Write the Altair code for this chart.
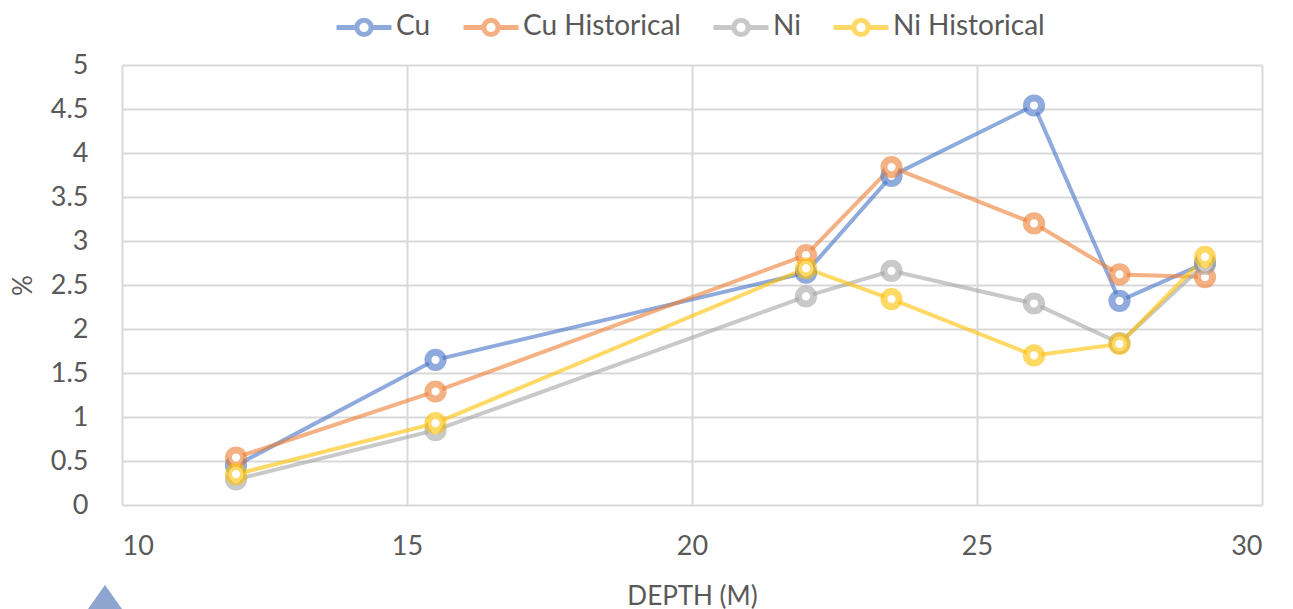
import altair as alt
import pandas as pd

depth = [12, 15.5, 22, 23.5, 26, 27.5, 29]
cu = [0.45, 1.65, 2.64, 3.74, 4.54, 2.32, 2.75]
cu_hist = [0.54, 1.29, 2.84, 3.84, 3.20, 2.62, 2.59]
ni = [0.29, 0.85, 2.37, 2.66, 2.29, 1.84, 2.74]
ni_hist = [0.35, 0.93, 2.69, 2.34, 1.70, 1.83, 2.82]

series_names = ["Cu", "Cu Historical", "Ni", "Ni Historical"]
series_colors = ["#4472C4", "#ED7D31", "#A5A5A5", "#FFC000"]

rows = []
for name, vals in zip(series_names, [cu, cu_hist, ni, ni_hist]):
    for d, v in zip(depth, vals):
        rows.append({"series": name, "depth": d, "value": v})
df = pd.DataFrame(rows)

FONT = "Lato"
GREY = "#595959"

color = alt.Color(
    "series:N",
    scale=alt.Scale(domain=series_names, range=series_colors),
    sort=series_names,
    legend=alt.Legend(
        orient="none",
        legendX=212,
        legendY=-68,
        direction="horizontal",
        title=None,
        labelFont=FONT,
        labelFontSize=28,
        labelColor=GREY,
        labelLimit=400,
        symbolType="M-1,0L-0.26,0M0.26,0L1,0M-0.26,0A0.26,0.26,0,1,1,0.26,0A0.26,0.26,0,1,1,-0.26,0",
        symbolSize=3025,
        symbolStrokeWidth=5,
        symbolFillColor="white",
        symbolOpacity=0.6,
        columnPadding=22,
        labelOffset=2,
    ),
)

x = alt.X(
    "depth:Q",
    scale=alt.Scale(domain=[10, 30], nice=False, zero=False),
    axis=alt.Axis(
        values=[10, 15, 20, 25, 30],
        title="DEPTH (M)",
        titleFont=FONT,
        titleFontSize=26,
        titleFontWeight="normal",
        titleColor=GREY,
        titlePadding=24,
        labelFont=FONT,
        labelFontSize=27,
        labelColor=GREY,
        labelPadding=28,
        domain=False,
        ticks=False,
        gridColor="#D9D9D9",
        gridWidth=2,
    ),
)
y = alt.Y(
    "value:Q",
    scale=alt.Scale(domain=[0, 5], nice=False),
    axis=alt.Axis(
        values=[0, 0.5, 1, 1.5, 2, 2.5, 3, 3.5, 4, 4.5, 5],
        format="~g",
        title="%",
        titleFont=FONT,
        titleFontSize=26,
        titleFontWeight="normal",
        titleColor=GREY,
        titlePadding=14,
        labelFont=FONT,
        labelFontSize=27,
        labelColor=GREY,
        labelPadding=34,
        domain=False,
        ticks=False,
        gridColor="#D9D9D9",
        gridWidth=2,
    ),
)

base = alt.Chart(df)
lines = base.mark_line(strokeWidth=4, opacity=0.6).encode(x=x, y=y, color=color, detail="series:N")
points = base.mark_point(
    filled=False, fill="white", fillOpacity=1, strokeWidth=7, strokeOpacity=0.6, size=230, opacity=1
).encode(x=x, y=y, color=alt.Color("series:N", scale=alt.Scale(domain=series_names, range=series_colors), legend=None))

tri_df = pd.DataFrame({"k": ["shape"]})
triangle = alt.Chart(tri_df).mark_point(
    shape="M0,-1L1.42,1L-1.42,1Z", filled=True, color="#8EA5CF", opacity=1, size=3600
).encode(x=alt.value(-17), y=alt.value(550))

chart = alt.layer(lines, points, triangle).properties(
    width=1140,
    height=440,
    autosize=alt.AutoSizeParams(type="none"),
    padding={"left": 114, "top": 57, "right": 20, "bottom": 104},
).configure_view(stroke=None)

chart.save("out.html", embed_options={"renderer": "svg", "actions": False})
